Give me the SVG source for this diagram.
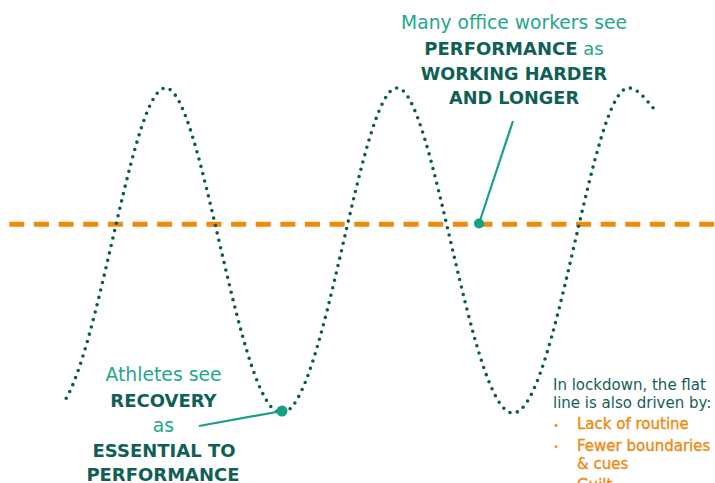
<svg xmlns="http://www.w3.org/2000/svg" width="715" height="483" viewBox="0 0 715 483">
  <style>
    .lite { font-family: "DejaVu Sans", "Liberation Sans", sans-serif; fill: #1fa88d; }
    .bold { font-family: "DejaVu Sans", "Liberation Sans", sans-serif; font-weight: bold; fill: #0f5f55; }
    .note { font-family: "DejaVu Sans", "Liberation Sans", sans-serif; font-size: 15px; fill: #165f58; }
    .item { font-family: "DejaVu Sans", "Liberation Sans", sans-serif; font-size: 15px; fill: #ef8a12; stroke: #ef8a12; stroke-width: 0.35; }
    .wave { fill: none; stroke: #0a5b51; stroke-width: 3.6; stroke-linecap: round; stroke-dasharray: 0 7.6; }
    .flat { fill: none; stroke: #f08a0b; stroke-width: 5; stroke-dasharray: 15 9.64; }
    .link { fill: none; stroke: #15a088; stroke-width: 2.2; }
    .pin { fill: #15a088; }
  </style>
  <defs>
    <clipPath id="waveClip">
      <rect x="64" y="0" width="651" height="483"/>
    </clipPath>
  </defs>

  <!-- flat working line -->
  <g id="flat-line">
    <line class="flat" x1="9.3" y1="224.2" x2="740" y2="224.2"/>
  </g>

  <!-- oscillating performance/recovery curve -->
  <g id="wave" clip-path="url(#waveClip)">
    <path class="wave" d="M 50 413 C 93 413, 128.5 88, 165.5 88 C 202.5 88, 238.5 413, 281.5 413 C 324.5 413, 360 88, 397 88 C 434 88, 470 413, 513 413 C 556 413, 591.5 88, 628.5 88 C 640 88, 650 106, 658 113"/>
  </g>

  <!-- callout connectors -->
  <g id="connectors">
    <line class="link" x1="513" y1="121" x2="479" y2="223.5"/>
    <circle class="pin" cx="479" cy="223.5" r="5"/>
    <line class="link" x1="199" y1="426" x2="282" y2="411"/>
    <circle class="pin" cx="282" cy="411" r="5.5"/>
  </g>

  <!-- office workers callout -->
  <g id="office-workers" text-anchor="middle">
    <text class="lite" x="514" y="29" font-size="18.7">Many office workers see</text>
    <text x="514" y="54.5" font-size="18"><tspan class="bold">PERFORMANCE</tspan><tspan class="lite"> as</tspan></text>
    <text class="bold" x="514" y="79.5" font-size="17.7">WORKING HARDER</text>
    <text class="bold" x="514" y="103.5" font-size="17.7">AND LONGER</text>
  </g>

  <!-- athletes callout -->
  <g id="athletes" text-anchor="middle">
    <text class="lite" x="163.5" y="381" font-size="18.8">Athletes see</text>
    <text class="bold" x="163.5" y="406.5" font-size="18">RECOVERY</text>
    <text class="lite" x="163.5" y="431.5" font-size="18.8">as</text>
    <text class="bold" x="164" y="456.5" font-size="18">ESSENTIAL TO</text>
    <text class="bold" x="163" y="480.5" font-size="18">PERFORMANCE</text>
  </g>

  <!-- lockdown drivers note -->
  <g id="lockdown-note">
    <text class="note" x="553" y="390">In lockdown, the flat</text>
    <text class="note" x="553" y="408.3">line is also driven by:</text>
    <circle cx="556" cy="425.5" r="1.4" fill="#ef8a12"/>
    <text class="item" x="577" y="429.3">Lack of routine</text>
    <circle cx="556" cy="446.7" r="1.4" fill="#ef8a12"/>
    <text class="item" x="577" y="450.5">Fewer boundaries</text>
    <text class="item" x="577" y="469.3">&amp; cues</text>
    <circle cx="556" cy="486" r="1.4" fill="#ef8a12"/>
    <text class="item" x="577" y="490">Guilt</text>
  </g>
</svg>
